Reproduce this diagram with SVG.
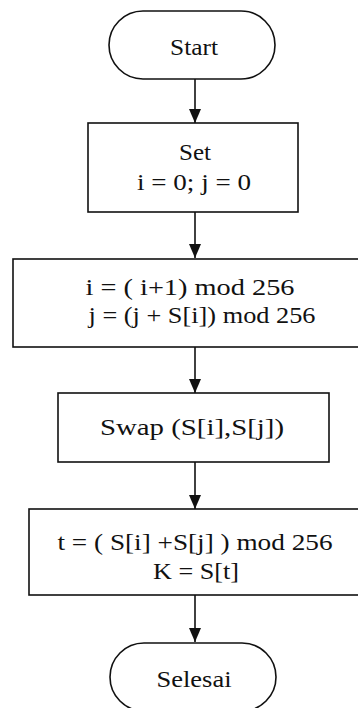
<svg xmlns="http://www.w3.org/2000/svg" width="358" height="708" viewBox="0 0 358 708">
<defs>
<marker id="arr" markerWidth="14" markerHeight="12" refX="14" refY="6" orient="auto" markerUnits="userSpaceOnUse" viewBox="0 0 14 12">
<path d="M0,0 L14,6 L0,12 Z" fill="#111"/>
</marker>
</defs>
<style>
.shape{fill:#fff;stroke:#111;stroke-width:1.6}
.t{font-family:"Liberation Serif","Times New Roman",serif;font-size:23px;fill:#111;text-anchor:middle}
.c{stroke:#111;stroke-width:1.6;fill:none}
</style>
<rect width="358" height="708" fill="#fff"/>
<g id="connectors">
<line class="c" x1="195" y1="79" x2="195" y2="123" marker-end="url(#arr)"/>
<line class="c" x1="195" y1="212" x2="195" y2="258" marker-end="url(#arr)"/>
<line class="c" x1="195" y1="347" x2="195" y2="393" marker-end="url(#arr)"/>
<line class="c" x1="195" y1="462" x2="195" y2="509" marker-end="url(#arr)"/>
<line class="c" x1="195" y1="595" x2="195" y2="642" marker-end="url(#arr)"/>
</g>
<g id="start">
<rect class="shape" x="109" y="11" width="166" height="68" rx="34" ry="34"/>
<text class="t" x="194" y="55" textLength="48" lengthAdjust="spacingAndGlyphs">Start</text>
</g>
<g id="set">
<rect class="shape" x="88" y="123" width="210" height="89"/>
<text class="t" x="195" y="160" textLength="32" lengthAdjust="spacingAndGlyphs">Set</text>
<text class="t" x="194" y="190" textLength="114" lengthAdjust="spacingAndGlyphs">i = 0; j = 0</text>
</g>
<g id="update">
<rect class="shape" x="13" y="259" width="350" height="88"/>
<text class="t" x="190" y="295" textLength="209" lengthAdjust="spacingAndGlyphs">i = ( i+1) mod 256</text>
<text class="t" x="202" y="323" textLength="227" lengthAdjust="spacingAndGlyphs">j = (j + S[i]) mod  256</text>
</g>
<g id="swap">
<rect class="shape" x="58" y="393" width="271" height="69"/>
<text class="t" x="192" y="435" textLength="184" lengthAdjust="spacingAndGlyphs">Swap (S[i],S[j])</text>
</g>
<g id="output">
<rect class="shape" x="29" y="509" width="334" height="86"/>
<text class="t" x="195" y="550" textLength="275" lengthAdjust="spacingAndGlyphs">t = ( S[i] +S[j] ) mod 256</text>
<text class="t" x="196" y="579" textLength="86" lengthAdjust="spacingAndGlyphs">K = S[t]</text>
</g>
<g id="selesai">
<rect class="shape" x="110" y="643" width="166" height="68" rx="34" ry="34"/>
<text class="t" x="194" y="687" textLength="75" lengthAdjust="spacingAndGlyphs">Selesai</text>
</g>
</svg>
